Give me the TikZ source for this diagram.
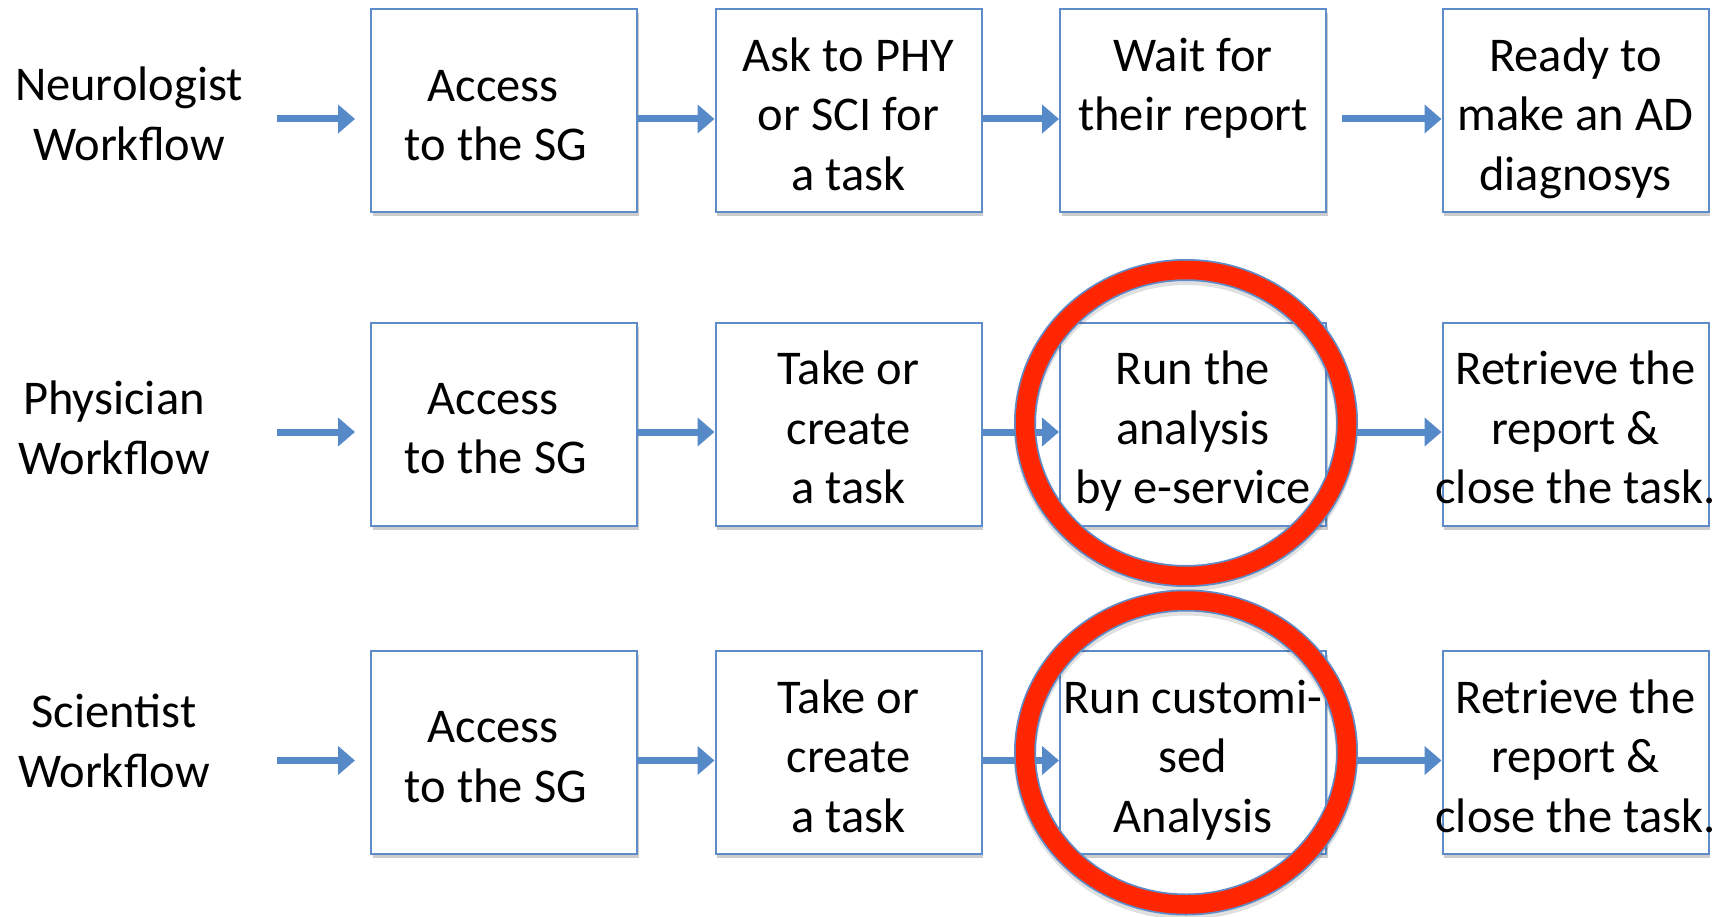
\documentclass[tikz,border=0pt]{standalone}
\usepackage{fontspec}
\setmainfont{Carlito}
\usetikzlibrary{arrows.meta,shadows}
\definecolor{boxblue}{RGB}{94,140,200}
\definecolor{arrblue}{RGB}{86,137,200}
\definecolor{ringred}{RGB}{255,38,0}
% one centred text line with a fixed line box (ascent 49.75pt, descent 9.75pt)
\newcommand\Lne[1]{\makebox[0pt]{\rule[-9.75pt]{0pt}{59.5pt}#1}}
\begin{document}
\begin{tikzpicture}[x=1pt,y=-1pt,
  txt/.style={font=\fontsize{48.5pt}{59.5pt}\selectfont, align=center, text=black, inner sep=0pt},
  stepbox/.style={txt, draw=boxblue, line width=2pt, fill=white, minimum width=266pt, minimum height=203pt,
    drop shadow={shadow xshift=1.5pt, shadow yshift=-4pt, opacity=0.2, fill=black}},
  flow/.style={draw=arrblue, line width=7pt, -{Triangle[length=17pt,width=28pt]}},
  ringshadow/.style={draw=black, opacity=0.12, line width=22pt},
  ringout/.style={draw=boxblue, line width=22pt},
  ringin/.style={draw=ringred, line width=18.5pt}]
\useasboundingbox (0,0) rectangle (1728,917);

% row labels
\node[txt] (lab1) at (129,110.5) {\Lne{Neurologist}\\\Lne{Workflow}};
\node[txt] (lab2) at (114,424.5) {\Lne{Physician}\\\Lne{Workflow}};
\node[txt] (lab3) at (114,737.5) {\Lne{Scientist}\\\Lne{Workflow}};

% row 1
\node[stepbox] (b11) at (504,111) {\Lne{Access\hspace*{22pt}}\\\Lne{to the SG\hspace*{16pt}}};
\node[stepbox] (b12) at (848.5,111) {\Lne{Ask to PHY}\\\Lne{or SCI for}\\\Lne{a task}};
\node[stepbox] (b13) at (1193,111) {\Lne{Wait for}\\\Lne{their report}\\\Lne{}};
\node[stepbox] (b14) at (1575.5,111) {\Lne{Ready to}\\\Lne{make an AD}\\\Lne{diagnosys}};

% row 2
\node[stepbox] (b21) at (504,424) {\Lne{Access\hspace*{22pt}}\\\Lne{to the SG\hspace*{16pt}}};
\node[stepbox] (b22) at (848.5,424) {\Lne{Take or}\\\Lne{create}\\\Lne{a task}};
\node[stepbox] (b23) at (1193,424) {\Lne{Run the}\\\Lne{analysis}\\\Lne{by e-service}};
\node[stepbox] (b24) at (1575.5,424) {\Lne{Retrieve the}\\\Lne{report \&}\\\Lne{close the task.}};

% row 3
\node[stepbox] (b31) at (504,752.5) {\Lne{Access\hspace*{22pt}}\\\Lne{to the SG\hspace*{16pt}}};
\node[stepbox] (b32) at (848.5,752.5) {\Lne{Take or}\\\Lne{create}\\\Lne{a task}};
\node[stepbox] (b33) at (1193,752.5) {\Lne{Run customi-}\\\Lne{sed}\\\Lne{Analysis}};
\node[stepbox] (b34) at (1575.5,752.5) {\Lne{Retrieve the}\\\Lne{report \&}\\\Lne{close the task.}};

% start points of the entry arrows
\coordinate (s1) at (277,119);
\coordinate (s2) at (277,432);
\coordinate (s3) at (277,760.5);

\foreach \r in {1,2,3}{
  \draw[flow, shorten >=15pt] (s\r) -- ([yshift=-8pt]b\r1.west);
  \draw[flow] ([yshift=-8pt]b\r1.east) -- ([yshift=-8pt]b\r2.west);
  \draw[flow] ([yshift=-8pt]b\r2.east) -- ([yshift=-8pt]b\r3.west);
  \draw[flow, shorten <=15pt] ([yshift=-8pt]b\r3.east) -- ([yshift=-8pt]b\r4.west);
}

% red highlight rings
\coordinate (c2) at (1186,423);
\coordinate (c3) at (1186,752.5);
\draw[ringshadow] ([yshift=-4pt]c2) ellipse [x radius=161pt, y radius=153pt];
\draw[ringshadow] ([yshift=-4pt]c3) ellipse [x radius=161pt, y radius=152pt];
\draw[ringout] (c2) ellipse [x radius=161pt, y radius=153pt];
\draw[ringin]  (c2) ellipse [x radius=161pt, y radius=153pt];
\draw[ringout] (c3) ellipse [x radius=161pt, y radius=152pt];
\draw[ringin]  (c3) ellipse [x radius=161pt, y radius=152pt];
\end{tikzpicture}
\end{document}
